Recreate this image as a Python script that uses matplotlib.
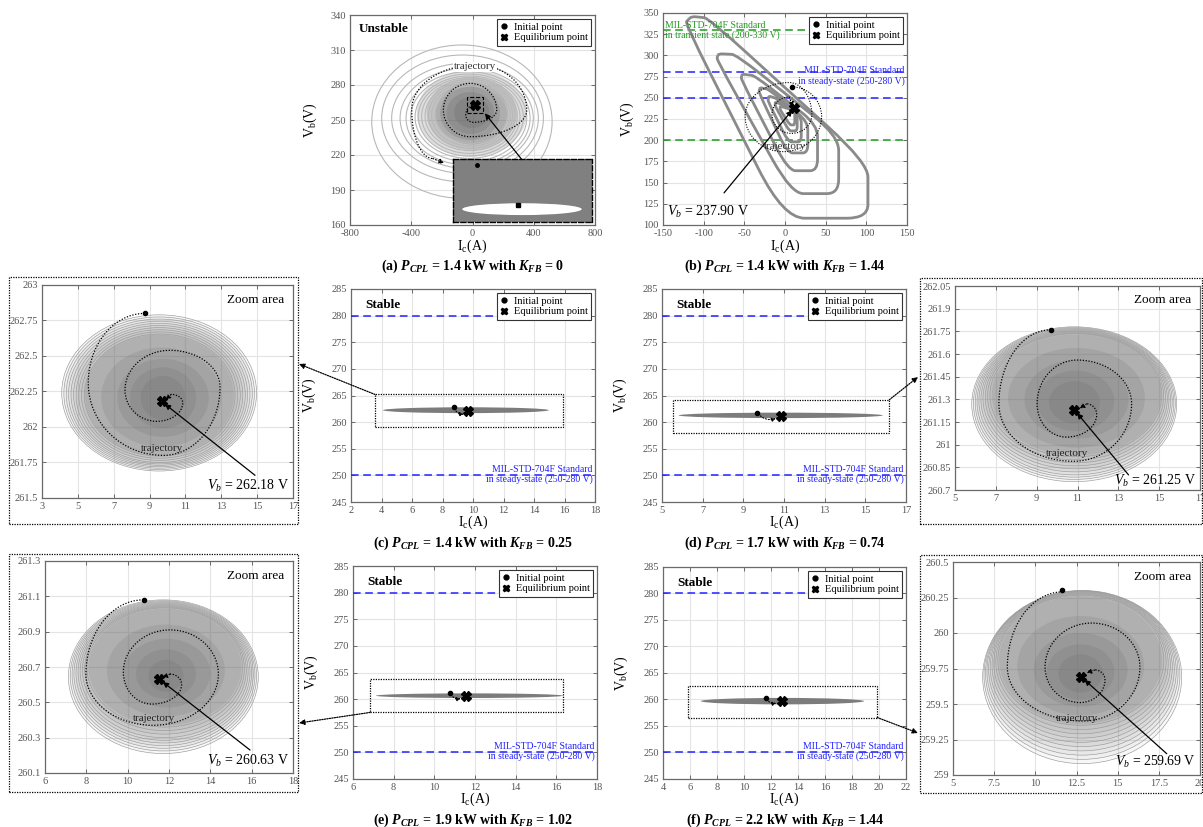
import matplotlib
matplotlib.use("Agg")
import matplotlib.pyplot as plt
from matplotlib.patches import Ellipse, Rectangle, PathPatch, ConnectionPatch
from matplotlib.path import Path
from matplotlib.lines import Line2D
from matplotlib.ticker import FuncFormatter

# ---------------- values ----------------
# (a) P_CPL = 1.4 kW, K_FB = 0 (unstable)
a_xticks = [-800, -400, 0, 400, 800]
a_yticks = [160, 190, 220, 250, 280, 310, 340]
a_ring_left = [-658, -593, -528, -473, -434, -404, -375, -354, -332, -310, -288, -267, -245]
a_ring_right = [520, 463, 430, 397, 376, 354, 332, 310, 293, 278, 262, 245, 228]
a_ring_top = [314.3, 305.7, 298.6, 294.3, 291.4, 289.4, 287.7, 286.3, 284.9, 283.4, 282.0, 280.6, 279.2]
a_ring_bot = [182.9, 197.1, 204.3, 208.6, 211.4, 214.3, 217.1, 219.1, 221.4, 223.7, 225.7, 227.7, 230.0]
a_shade_left = [-364, -300, -240, -212, -170, -120]
a_shade_right = [354, 290, 230, 180, 140, 110]
a_shade_top = [292.9, 287.0, 282.0, 278.6, 274.0, 270.0]
a_shade_bot = [218.6, 224.0, 229.0, 232.9, 238.0, 243.0]
a_traj_x = [16, -44.5, 5.5, 158, -16, -190, -16, 354, 27, -397, -260]
a_traj_y = [263, 254.3, 248, 258.6, 281.4, 258.6, 235.7, 258.6, 297.2, 258.6, 217]
a_traj_end = (-185, 213)
a_eq = (16, 263)
a_box = (-38, 71, 255.7, 270.0)
a_inset = (-125, 782, 162.9, 216.3)

# (b) P_CPL = 1.4 kW, K_FB = 1.44
b_xticks = [-150, -100, -50, 0, 50, 100, 150]
b_yticks = [100, 125, 150, 175, 200, 225, 250, 275, 300, 325, 350]
b_loops_x = [[-115, -94, 102, 102, -2, -123],
             [-82, -60, 66, 66, 8, -84],
             [-53, -37, 40, 40, 4, -54],
             [-31, -20, 28, 28, 3, -32],
             [-20, -12, 20, 20, 4, -21],
             [-12, -6, 15, 15, 5, -12],
             [-6, -2, 12, 12, 6, -6]]
b_loops_y = [[346, 344, 173, 108, 108, 338],
             [302, 301, 205, 137, 137, 295],
             [278, 276, 218, 164, 164, 272],
             [262, 260, 222, 185, 185, 256],
             [252, 250, 228, 198, 198, 246],
             [245, 243, 232, 211, 211, 240],
             [240, 239, 235, 218, 218, 236]]
b_traj_x = [8, 45, -2, -49, 5, 33, 8, -16, 5]
b_traj_y = [263, 228, 186.5, 228, 268, 230, 208, 230, 251]
b_traj_end = (10, 239)
b_init = (8, 263)
b_eq = (11, 237.9)

steady_limits = [250, 280]
transient_limits = [200, 330]
main_yticks = [245, 250, 255, 260, 265, 270, 275, 280, 285]

# (c) P_CPL = 1.4 kW, K_FB = 0.25
c_xticks = [2, 4, 6, 8, 10, 12, 14, 16, 18]
c_box = (3.57, 15.92, 259.14, 265.2)
c_init = (8.74, 262.8)
c_eq = (9.67, 262.18)
c_arrow_end = (9.4, 261.5)
zc_xticks = [3, 5, 7, 9, 11, 13, 15, 17]
zc_yticks = [261.5, 261.75, 262, 262.25, 262.5, 262.75, 263]
zc_ring_left = [4.10, 4.22, 4.35, 4.48, 4.62, 4.76, 4.90, 5.05, 5.20, 5.36]
zc_ring_right = [14.97, 14.85, 14.73, 14.60, 14.47, 14.34, 14.20, 14.06, 13.92, 13.77]
zc_ring_top = [262.79, 262.775, 262.76, 262.745, 262.73, 262.715, 262.70, 262.685, 262.67, 262.655]
zc_ring_bot = [261.69, 261.70, 261.71, 261.72, 261.73, 261.74, 261.75, 261.765, 261.78, 261.795]
zc_shade_left = [5.4, 6.3, 7.2, 7.9, 8.5]
zc_shade_right = [13.7, 13.0, 12.3, 11.6, 11.0]
zc_shade_top = [262.65, 262.56, 262.48, 262.42, 262.36]
zc_shade_bot = [261.80, 261.86, 261.93, 261.99, 262.05]
zc_traj_x = [8.74, 5.58, 9.77, 12.93, 10.14, 7.63, 9.40, 10.85, 10.2]
zc_traj_y = [262.80, 262.31, 261.80, 262.28, 262.54, 262.26, 262.04, 262.17, 262.23]
zc_traj_end = (9.9, 262.19)

# (d) P_CPL = 1.7 kW, K_FB = 0.74
d_xticks = [5, 7, 9, 11, 13, 15, 17]
d_box = (5.56, 16.18, 258.0, 264.2)
d_init = (9.69, 261.76)
d_eq = (10.85, 261.23)
d_arrow_end = (10.6, 260.7)
zd_xticks = [5, 7, 9, 11, 13, 15, 17]
zd_yticks = [260.7, 260.85, 261, 261.15, 261.3, 261.45, 261.6, 261.75, 261.9, 262.05]
zd_ring_left = [5.82, 5.90, 5.99, 6.08, 6.17, 6.27, 6.37, 6.48, 6.59, 6.71]
zd_ring_right = [15.86, 15.79, 15.72, 15.64, 15.56, 15.48, 15.40, 15.31, 15.22, 15.13]
zd_ring_top = [261.78, 261.775, 261.77, 261.765, 261.76, 261.755, 261.75, 261.745, 261.74, 261.735]
zd_ring_bot = [260.755, 260.77, 260.785, 260.80, 260.82, 260.84, 260.86, 260.88, 260.90, 260.92]
zd_shade_left = [6.8, 7.6, 8.4, 9.0, 9.6]
zd_shade_right = [15.1, 14.3, 13.5, 12.8, 12.1]
zd_shade_top = [261.73, 261.64, 261.56, 261.49, 261.42]
zd_shade_bot = [260.93, 260.98, 261.04, 261.09, 261.14]
zd_traj_x = [9.69, 7.15, 10.8, 13.65, 10.98, 9.02, 10.45, 11.94, 11.45]
zd_traj_y = [261.76, 261.27, 260.89, 261.27, 261.56, 261.27, 261.05, 261.20, 261.27]
zd_traj_end = (11.1, 261.24)

# (e) P_CPL = 1.9 kW, K_FB = 1.02
e_xticks = [6, 8, 10, 12, 14, 16, 18]
e_box = (6.84, 16.35, 257.5, 263.7)
e_init = (10.78, 261.08)
e_eq = (11.54, 260.63)
e_arrow_end = (11.3, 260.1)
ze_xticks = [6, 8, 10, 12, 14, 16, 18]
ze_yticks = [260.1, 260.3, 260.5, 260.7, 260.9, 261.1, 261.3]
ze_ring_left = [7.13, 7.22, 7.31, 7.40, 7.50, 7.60, 7.70, 7.81, 7.92, 8.03]
ze_ring_right = [16.32, 16.24, 16.16, 16.08, 16.00, 15.92, 15.83, 15.74, 15.65, 15.56]
ze_ring_top = [261.08, 261.075, 261.07, 261.065, 261.06, 261.055, 261.05, 261.045, 261.04, 261.035]
ze_ring_bot = [260.21, 260.225, 260.24, 260.255, 260.27, 260.285, 260.30, 260.32, 260.34, 260.36]
ze_shade_left = [8.1, 9.0, 9.8, 10.4, 11.0]
ze_shade_right = [15.5, 14.7, 14.0, 13.3, 12.7]
ze_shade_top = [261.03, 260.94, 260.86, 260.80, 260.74]
ze_shade_bot = [260.37, 260.42, 260.47, 260.52, 260.56]
ze_traj_x = [10.76, 7.98, 11.24, 14.39, 12.05, 9.79, 11.16, 12.61, 12.05]
ze_traj_y = [261.08, 260.66, 260.37, 260.66, 260.91, 260.67, 260.49, 260.60, 260.66]
ze_traj_end = (11.68, 260.64)

# (f) P_CPL = 2.2 kW, K_FB = 1.44
f_xticks = [4, 6, 8, 10, 12, 14, 16, 18, 20, 22]
f_box = (5.88, 19.87, 256.6, 262.6)
f_init = (11.63, 260.3)
f_eq = (12.8, 259.69)
f_arrow_end = (12.4, 259.3)
zf_xticks = [5, 7.5, 10, 12.5, 15, 17.5, 20]
zf_yticks = [259, 259.25, 259.5, 259.75, 260, 260.25, 260.5]
zf_ring_left = [6.80, 6.88, 6.97, 7.06, 7.16, 7.26, 7.37, 7.48, 7.60, 7.72]
zf_ring_right = [18.89, 18.78, 18.67, 18.56, 18.44, 18.32, 18.20, 18.07, 17.94, 17.80]
zf_ring_top = [260.30, 260.298, 260.296, 260.293, 260.29, 260.286, 260.282, 260.277, 260.272, 260.266]
zf_ring_bot = [259.08, 259.11, 259.14, 259.17, 259.20, 259.23, 259.26, 259.29, 259.32, 259.35]
zf_shade_left = [7.8, 8.9, 9.9, 10.7, 11.4]
zf_shade_right = [17.7, 16.6, 15.6, 14.8, 14.1]
zf_shade_top = [260.26, 260.12, 260.00, 259.92, 259.85]
zf_shade_bot = [259.36, 259.42, 259.48, 259.53, 259.58]
zf_traj_x = [11.66, 8.3, 12.9, 16.35, 13.42, 10.59, 12.71, 14.23, 13.62]
zf_traj_y = [260.29, 259.76, 259.38, 259.76, 260.07, 259.76, 259.51, 259.67, 259.74]
zf_traj_end = (13.1, 259.72)

# ---------------- style ----------------
plt.rcParams["font.family"] = ["Liberation Serif", "DejaVu Serif"]
plt.rcParams["mathtext.fontset"] = "custom"
plt.rcParams["mathtext.rm"] = "Liberation Serif"
plt.rcParams["mathtext.it"] = "Liberation Serif:italic"
plt.rcParams["mathtext.bf"] = "Liberation Serif:italic:bold"
plt.rcParams["axes.unicode_minus"] = False

W, H = 1203, 827
fig = plt.figure(figsize=(W / 100, H / 100), dpi=100)

BLUE = "#2222ff"
GREEN = "#1f9a1f"
DOT = (0, (1, 1.3))


def px_axes(x0, y0, x1, y1):
    return fig.add_axes([x0 / W, 1 - y1 / H, (x1 - x0) / W, (y1 - y0) / H])


def ffrac(px, py):
    return (px / W, 1 - py / H)


def style(ax, xlim, xticks, ylim, yticks, fmt=False):
    ax.set_xlim(xlim)
    ax.set_ylim(ylim)
    ax.set_xticks(xticks)
    ax.set_yticks(yticks)
    ax.grid(True, color="#e4e4e4", lw=0.8)
    ax.set_axisbelow(True)
    ax.tick_params(direction="in", length=3, width=0.6, colors="#555555",
                   labelsize=7.5, top=True, right=True, pad=3)
    for s in ax.spines.values():
        s.set_color("#6a6a6a")
        s.set_linewidth(0.9)
    if fmt:
        ax.yaxis.set_major_formatter(FuncFormatter(lambda v, p: f"{v:g}"))
        ax.xaxis.set_major_formatter(FuncFormatter(lambda v, p: f"{v:g}"))


def labels(ax, xl=-0.06, yl=-0.13):
    ax.set_xlabel(r"I$_\mathrm{c}$(A)", fontsize=10)
    ax.set_ylabel(r"V$_\mathrm{b}$(V)", fontsize=10)
    ax.xaxis.set_label_coords(0.5, xl)
    ax.yaxis.set_label_coords(yl, 0.5)


def add_legend(ax):
    h = [Line2D([], [], ls="none", marker="o", ms=3.5, color="k"),
         Line2D([], [], ls="none", marker="X", ms=5, color="k")]
    leg = ax.legend(h, ["Initial point", "Equilibrium point"], loc="upper right",
                    fontsize=7.5, handlelength=0.8, handletextpad=0.5, borderpad=0.3,
                    labelspacing=0.15, fancybox=False, edgecolor="#333333",
                    framealpha=1, borderaxespad=0.4)
    leg.get_frame().set_linewidth(0.8)
    leg.set_zorder(20)


def ellipse(l, r, t, b, **kw):
    return Ellipse(((l + r) / 2, (t + b) / 2), r - l, t - b, **kw)


def spiral(xs, ys):
    # quarter-ellipse Bezier pieces through the extreme points of each turn
    k = 0.5523
    verts = [(xs[0], ys[0])]
    codes = [Path.MOVETO]
    horiz = True
    for i in range(len(xs) - 1):
        x0, y0, x1, y1 = xs[i], ys[i], xs[i + 1], ys[i + 1]
        cx, cy = (x1, y0) if horiz else (x0, y1)
        verts += [(x0 + k * (cx - x0), y0 + k * (cy - y0)),
                  (x1 + k * (cx - x1), y1 + k * (cy - y1)), (x1, y1)]
        codes += [Path.CURVE4] * 3
        horiz = not horiz
    return Path(verts, codes)


def rounded_loop(xs, ys, r=0.25):
    n = len(xs)
    verts, codes = [], []
    for i in range(n):
        x, y = xs[i], ys[i]
        xp, yp = xs[i - 1], ys[i - 1]
        xn, yn = xs[(i + 1) % n], ys[(i + 1) % n]
        verts.append((x + r * (xp - x), y + r * (yp - y)))
        codes.append(Path.MOVETO if i == 0 else Path.LINETO)
        verts += [(x, y), (x + r * (xn - x), y + r * (yn - y))]
        codes += [Path.CURVE3, Path.CURVE3]
    verts.append(verts[0])
    codes.append(Path.LINETO)
    return Path(verts, codes)


def draw_traj(ax, xs, ys, end, lw=0.9):
    ax.add_patch(PathPatch(spiral(xs, ys), fill=False, ec="k", lw=lw, ls=DOT, zorder=6))
    ax.annotate("", xy=end, xytext=(xs[-1], ys[-1]),
                arrowprops=dict(arrowstyle="-|>", color="k", lw=0.8, ls=":",
                                mutation_scale=7, shrinkA=0, shrinkB=0), zorder=6)


def caption(px, py, tag, p, k):
    fig.text(*ffrac(px, py),
             rf"({tag}) $\mathbf{{P_{{CPL}}}}$ = {p} kW with $\mathbf{{K_{{FB}}}}$ = {k}",
             ha="center", va="center", fontsize=10, fontweight="bold")


def frame(x0, y0, x1, y1):
    fig.add_artist(Rectangle((x0 / W, 1 - y1 / H), (x1 - x0) / W, (y1 - y0) / H,
                             transform=fig.transFigure, fill=False, ls=(0, (1, 1)),
                             lw=0.9, ec="k"))


def link(ax, xy, px, py):
    fig.add_artist(ConnectionPatch(xyA=xy, coordsA=ax.transData, xyB=ffrac(px, py),
                                   coordsB=fig.transFigure, arrowstyle="-|>",
                                   ls=(0, (1, 1)), lw=0.9, color="k", mutation_scale=8))


# ---------------- (a) ----------------
ax = px_axes(350, 15, 595, 225)
style(ax, (-800, 800), a_xticks, (160, 340), a_yticks)
for l, r, t, b in zip(a_shade_left, a_shade_right, a_shade_top, a_shade_bot):
    ax.add_patch(ellipse(l, r, t, b, fc="#5a5a5a", ec="none", alpha=0.2, zorder=1))
for l, r, t, b in zip(a_ring_left, a_ring_right, a_ring_top, a_ring_bot):
    ax.add_patch(ellipse(l, r, t, b, fill=False, ec="#b8b8b8", lw=0.8, zorder=2))
draw_traj(ax, a_traj_x, a_traj_y, a_traj_end)
ax.add_patch(Rectangle((a_box[0], a_box[2]), a_box[1] - a_box[0], a_box[3] - a_box[2],
                       fill=False, ls="--", lw=0.8, ec="k", zorder=7))
ax.plot(*a_eq, "X", color="k", ms=7, zorder=8)
ax.text(16, 295.7, "trajectory", ha="center", va="center", fontsize=8, color="#333333",
        bbox=dict(fc="white", ec="none", pad=0.5), zorder=7)
ins = ax.inset_axes([a_inset[0], a_inset[2], a_inset[1] - a_inset[0], a_inset[3] - a_inset[2]],
                    transform=ax.transData, zorder=9)
ins.set_facecolor("#808080")
ins.set_xticks([])
ins.set_yticks([])
ins.set_xlim(0, 1)
ins.set_ylim(0, 1)
for s in ins.spines.values():
    s.set_linestyle("--")
    s.set_linewidth(1.0)
ins.add_patch(Ellipse((0.494, 0.2), 0.86, 0.19, fc="white", ec="none"))
ins.plot(0.168, 0.914, "o", color="k", ms=2.5)
ins.plot(0.463, 0.262, "s", color="k", ms=2.5)
ax.annotate("", xy=(a_box[1] + 10, a_box[2]), xytext=(321, 216.3),
            arrowprops=dict(arrowstyle="-|>", color="k", lw=0.9, mutation_scale=8,
                            shrinkA=0, shrinkB=0), zorder=10)
ax.text(0.037, 0.935, "Unstable", transform=ax.transAxes, fontsize=9.5,
        fontweight="bold", va="center")
add_legend(ax)
labels(ax, yl=-0.125)
caption(473, 266, "a", "1.4", "0")

# ---------------- (b) ----------------
ax = px_axes(663, 13, 907, 225)
style(ax, (-150, 150), b_xticks, (100, 350), b_yticks)
for yv in transient_limits:
    ax.axhline(yv, color=GREEN, ls=(0, (5, 3)), lw=1.1, zorder=3)
for yv in steady_limits:
    ax.axhline(yv, color=BLUE, ls=(0, (5, 3)), lw=1.1, zorder=3)
for xs, ys in zip(b_loops_x, b_loops_y):
    ax.add_patch(PathPatch(rounded_loop(xs, ys), fill=False, ec="#8a8a8a", lw=2.0,
                           joinstyle="round", zorder=4))
ax.text(-147, 341, "MIL-STD-704F Standard\nin transient state (200-330 V)", color=GREEN,
        fontsize=7, ha="left", va="top", linespacing=1.1, zorder=5)
ax.text(147, 287, "MIL-STD-704F Standard\nin steady-state (250-280 V)", color=BLUE,
        fontsize=7, ha="right", va="top", linespacing=1.1, zorder=5)
draw_traj(ax, b_traj_x, b_traj_y, b_traj_end, lw=0.8)
ax.plot(*b_init, "o", color="k", ms=3, zorder=8)
ax.plot(*b_eq, "X", color="k", ms=7, zorder=8)
ax.text(0, 192.4, "trajectory", ha="center", va="center", fontsize=8, color="#333333", zorder=7)
ax.annotate(r"$V_b$ = 237.90 V", xy=b_eq, xytext=(-145, 115), fontsize=10, ha="left",
            va="center", arrowprops=dict(arrowstyle="-|>", color="k", lw=0.9,
                                         mutation_scale=8, shrinkA=8, shrinkB=2), zorder=9)
add_legend(ax)
labels(ax, yl=-0.11)
caption(785, 266, "b", "1.4", "1.44")


# ---------------- stable cases ----------------
def stable_panel(rect, xlim, xticks, ring, init, eq, arrow_end, box):
    ax = px_axes(*rect)
    style(ax, xlim, xticks, (245, 285), main_yticks)
    for yv in steady_limits:
        ax.axhline(yv, color=BLUE, ls=(0, (5, 3)), lw=1.1, zorder=3)
    ax.text(xlim[1] - 0.01 * (xlim[1] - xlim[0]), 252.0,
            "MIL-STD-704F Standard\nin steady-state (250-280 V)", color=BLUE, fontsize=7,
            ha="right", va="top", linespacing=1.1, zorder=5)
    ax.add_patch(ellipse(ring[0][0], ring[1][0], ring[2][0], ring[3][0],
                         fc="#7c7c7c", ec="none", zorder=4))
    ax.add_patch(Rectangle((box[0], box[2]), box[1] - box[0], box[3] - box[2], fill=False,
                           ls=(0, (1, 1)), lw=0.9, ec="k", zorder=5))
    ax.annotate("", xy=arrow_end, xytext=init,
                arrowprops=dict(arrowstyle="-|>", ls=":", lw=0.8, color="k",
                                mutation_scale=6, connectionstyle="arc3,rad=0.35",
                                shrinkA=1, shrinkB=0), zorder=6)
    ax.plot(*init, "o", color="k", ms=3, zorder=8)
    ax.plot(*eq, "X", color="k", ms=7, zorder=8)
    ax.text(0.057, 0.925, "Stable", transform=ax.transAxes, fontsize=9.5,
            fontweight="bold", va="center")
    add_legend(ax)
    labels(ax, xl=-0.055, yl=-0.135)
    return ax


def zoom_panel(rect, xlim, xticks, ylim, yticks, ring, shade, tx, ty, tend, init, eq,
               traj_pos, vb, vb_from, vb_y):
    ax = px_axes(*rect)
    style(ax, xlim, xticks, ylim, yticks, fmt=True)
    for l, r, t, b in zip(*ring):
        ax.add_patch(ellipse(l, r, t, b, fc="#707070", ec="none", alpha=0.055, zorder=1))
    for l, r, t, b in zip(*shade):
        ax.add_patch(ellipse(l, r, t, b, fc="#606060", ec="none", alpha=0.15, zorder=1))
    for l, r, t, b in zip(*ring):
        ax.add_patch(ellipse(l, r, t, b, fill=False, ec="#9a9a9a", lw=0.45, zorder=2))
    draw_traj(ax, tx, ty, tend)
    ax.plot(*init, "o", color="k", ms=3, zorder=8)
    ax.plot(*eq, "X", color="k", ms=7, zorder=8)
    ax.text(*traj_pos, "trajectory", ha="center", va="center", fontsize=8,
            color="#222222", zorder=7)
    ax.text(0.965, 0.93, "Zoom area", transform=ax.transAxes, ha="right", va="center",
            fontsize=9.5)
    ax.text(0.985, vb_y, rf"$V_b$ = {vb} V", transform=ax.transAxes, ha="right",
            va="center", fontsize=10, zorder=9)
    ax.annotate("", xy=eq, xytext=vb_from,
                arrowprops=dict(arrowstyle="-|>", color="k", lw=0.9, mutation_scale=8,
                                shrinkA=0, shrinkB=3), zorder=9)
    return ax


# (c)
zc_ring = (zc_ring_left, zc_ring_right, zc_ring_top, zc_ring_bot)
axc = stable_panel((351, 289, 595, 502), (2, 18), c_xticks, zc_ring, c_init, c_eq,
                   c_arrow_end, c_box)
caption(473, 543, "c", "1.4", "0.25")
zoom_panel((42, 285, 293, 498), (3, 17), zc_xticks, (261.5, 263), zc_yticks, zc_ring,
           (zc_shade_left, zc_shade_right, zc_shade_top, zc_shade_bot),
           zc_traj_x, zc_traj_y, zc_traj_end, c_init, c_eq, (9.67, 261.85),
           "262.18", (14.88, 261.66), 0.055)
frame(9, 277, 298, 524)
link(axc, (c_box[0], c_box[3]), 299, 364)

# (d)
zd_ring = (zd_ring_left, zd_ring_right, zd_ring_top, zd_ring_bot)
axd = stable_panel((662, 289, 906, 502), (5, 17), d_xticks, zd_ring, d_init, d_eq,
                   d_arrow_end, d_box)
caption(785, 543, "d", "1.7", "0.74")
zoom_panel((955, 286, 1200, 490), (5, 17), zd_xticks, (260.7, 262.05), zd_yticks, zd_ring,
           (zd_shade_left, zd_shade_right, zd_shade_top, zd_shade_bot),
           zd_traj_x, zd_traj_y, zd_traj_end, d_init, d_eq, (10.5, 260.94),
           "261.25", (13.5, 260.80), 0.045)
frame(920, 278, 1202, 524)
link(axd, (d_box[1], d_box[3]), 918, 377)

# (e)
ze_ring = (ze_ring_left, ze_ring_right, ze_ring_top, ze_ring_bot)
axe = stable_panel((353, 566, 597, 779), (6, 18), e_xticks, ze_ring, e_init, e_eq,
                   e_arrow_end, e_box)
caption(473, 820, "e", "1.9", "1.02")
zoom_panel((45, 561, 293, 773), (6, 18), ze_xticks, (260.1, 261.3), ze_yticks, ze_ring,
           (ze_shade_left, ze_shade_right, ze_shade_top, ze_shade_bot),
           ze_traj_x, ze_traj_y, ze_traj_end, e_init, e_eq, (11.3, 260.41),
           "260.63", (15.92, 260.23), 0.055)
frame(9, 554, 298, 792)
link(axe, (e_box[0], e_box[2]), 299, 723)

# (f)
zf_ring = (zf_ring_left, zf_ring_right, zf_ring_top, zf_ring_bot)
axf = stable_panel((663, 567, 906, 779), (4, 22), f_xticks, zf_ring, f_init, f_eq,
                   f_arrow_end, f_box)
caption(785, 820, "f", "2.2", "1.44")
zoom_panel((953, 562, 1200, 775), (5, 20), zf_xticks, (259, 260.5), zf_yticks, zf_ring,
           (zf_shade_left, zf_shade_right, zf_shade_top, zf_shade_bot),
           zf_traj_x, zf_traj_y, zf_traj_end, f_init, f_eq, (12.51, 259.40),
           "259.69", (17.98, 259.15), 0.062)
frame(920, 555, 1202, 793)
link(axf, (f_box[1], f_box[2]), 918, 733)

fig.savefig("out.png", dpi=100)
